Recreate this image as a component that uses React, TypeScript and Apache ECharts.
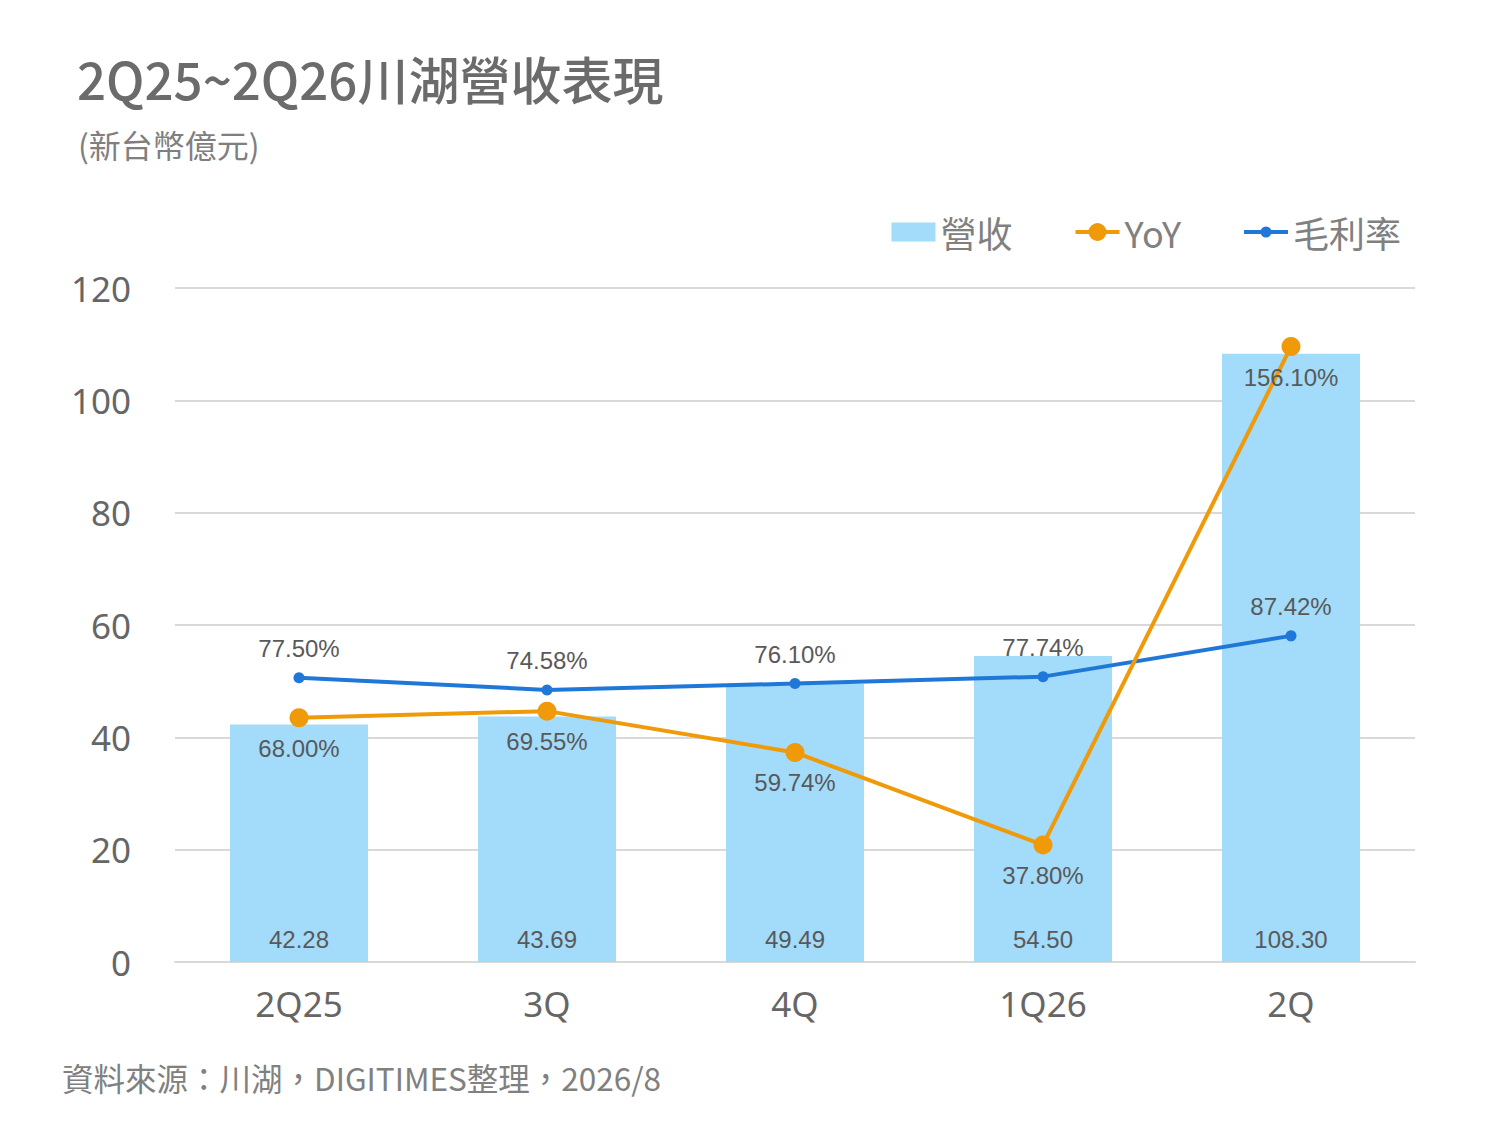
import * as echarts from "echarts";
import { useEffect, useRef } from "react";

const categories = ["2Q25", "3Q", "4Q", "1Q26", "2Q"];
const revenue = [42.28, 43.69, 49.49, 54.5, 108.3];
const yoy = [68.0, 69.55, 59.74, 37.8, 156.1];
const grossMargin = [77.5, 74.58, 76.1, 77.74, 87.42];

const CJK = "'Noto Sans CJK TC', 'Noto Sans', sans-serif";
const LATIN = "'Liberation Sans', Arial, sans-serif";
const labelColor = "#595959";

// legend icons: a line with a marker in the middle
const yoyIcon = "path://M0,8L44,8L44,12L0,12Z M13,10A9,9 0 1 1 31,10A9,9 0 1 1 13,10Z";
const marginIcon = "path://M0,8L44,8L44,12L0,12Z M16.5,10A5.5,5.5 0 1 1 27.5,10A5.5,5.5 0 1 1 16.5,10Z";

export default function App() {
  const chartRef = useRef<HTMLDivElement | null>(null);

  useEffect(() => {
    const el = chartRef.current;
    if (!el) return;
    document.body.style.margin = "0";

    const chart = echarts.init(el, undefined, { renderer: "svg" });

    const option: echarts.EChartsOption = {
      animation: false,
      backgroundColor: "#ffffff",
      title: [
        {
          text: "2Q25~2Q26川湖營收表現",
          left: 72,
          top: 47,
          textStyle: { fontFamily: CJK, fontSize: 51, fontWeight: 500, color: "#6b6b6b" },
        },
        {
          text: "(新台幣億元)",
          left: 73,
          top: 123,
          textStyle: { fontFamily: CJK, fontSize: 32, fontWeight: "normal", color: "#7f7f7f" },
        },
        {
          text: "資料來源：川湖，DIGITIMES整理，2026/8",
          left: 57,
          top: 1056,
          textStyle: { fontFamily: CJK, fontSize: 31.5, fontWeight: "normal", color: "#808080" },
        },
      ],
      legend: {
        right: 94,
        top: 209,
        itemWidth: 44,
        itemHeight: 19,
        itemGap: 63,
        symbolKeepAspect: true,
        textStyle: { fontFamily: CJK, fontSize: 36, color: "#808080" },
        data: [
          { name: "營收", icon: "rect" },
          { name: "YoY", icon: yoyIcon },
          { name: "毛利率", icon: marginIcon },
        ],
      },
      grid: { left: 175, right: 85, top: 288, bottom: 163 },
      xAxis: {
        type: "category",
        data: categories,
        axisLine: { lineStyle: { color: "#d9d9d9", width: 2 } },
        axisTick: { show: false },
        axisLabel: { fontFamily: "'Noto Sans', sans-serif", fontSize: 35, color: "#666666", margin: 24 },
      },
      yAxis: [
        {
          type: "value",
          min: 0,
          max: 120,
          interval: 20,
          axisLine: { show: false },
          axisTick: { show: false },
          axisLabel: { fontFamily: "'Noto Sans', sans-serif", fontSize: 35, color: "#666666", margin: 44 },
          splitLine: { lineStyle: { color: "#d9d9d9", width: 2 } },
        },
        {
          type: "value",
          min: 10,
          max: 170,
          interval: 10,
          show: false,
          splitLine: { show: false },
        },
      ],
      series: [
        {
          name: "營收",
          type: "bar",
          data: revenue,
          barWidth: 138,
          itemStyle: { color: "#a3dbfa" },
          label: {
            show: true,
            position: "insideBottom",
            distance: 11,
            fontFamily: LATIN,
            fontSize: 24,
            color: labelColor,
            formatter: (p: any) => Number(p.value).toFixed(2),
          },
        },
        {
          name: "毛利率",
          type: "line",
          yAxisIndex: 1,
          data: grossMargin,
          symbol: "circle",
          symbolSize: 11,
          lineStyle: { color: "#1f78d8", width: 4 },
          itemStyle: { color: "#1f78d8" },
          label: {
            show: true,
            position: "top",
            distance: 12,
            fontFamily: LATIN,
            fontSize: 24,
            color: labelColor,
            formatter: (p: any) => Number(p.value).toFixed(2) + "%",
          },
        },
        {
          name: "YoY",
          type: "line",
          yAxisIndex: 1,
          data: yoy,
          symbol: "circle",
          symbolSize: 19,
          lineStyle: { color: "#f09a0a", width: 4 },
          itemStyle: { color: "#f09a0a" },
          label: {
            show: true,
            position: "bottom",
            distance: 9,
            fontFamily: LATIN,
            fontSize: 24,
            color: labelColor,
            formatter: (p: any) => Number(p.value).toFixed(2) + "%",
          },
        },
      ],
    };

    chart.setOption(option, { notMerge: true });

    return () => {
      if (!chart.isDisposed()) chart.dispose();
    };
  }, []);

  return <div ref={chartRef} style={{ width: 1500, height: 1125 }} />;
}
